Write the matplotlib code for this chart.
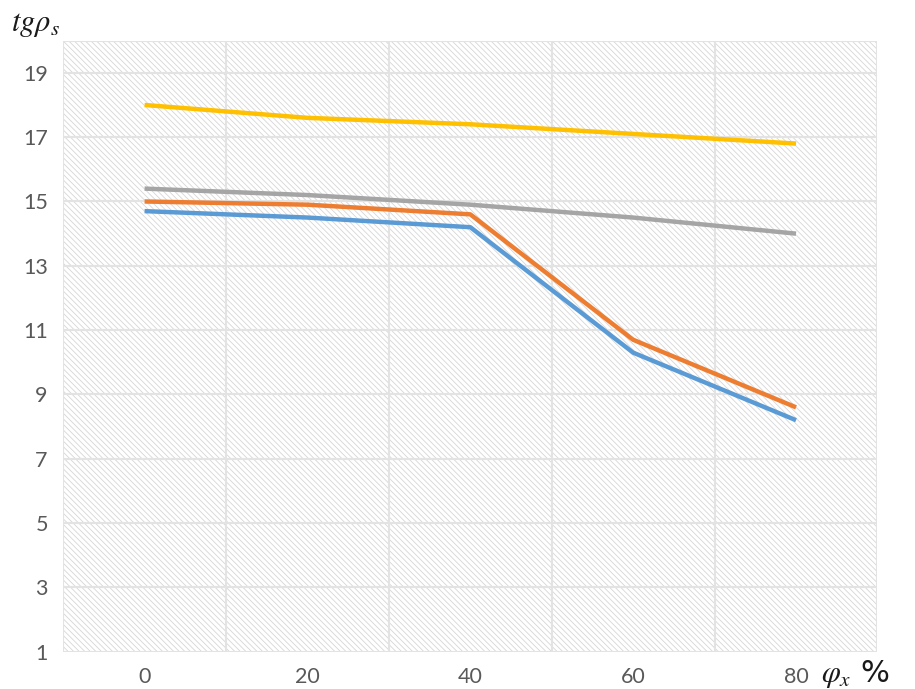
import matplotlib
matplotlib.use("Agg")
import matplotlib.pyplot as plt
from matplotlib.patches import Rectangle

plt.rcParams["mathtext.fontset"] = "stix"
plt.rcParams["hatch.linewidth"] = 0.6

phi_x = [0, 20, 40, 60, 80]
yellow = [18.0, 17.6, 17.4, 17.1, 16.8]
gray = [15.4, 15.2, 14.9, 14.5, 14.0]
orange = [15.0, 14.9, 14.6, 10.7, 8.6]
blue = [14.7, 14.5, 14.2, 10.3, 8.2]

y_ticks = [1, 3, 5, 7, 9, 11, 13, 15, 17, 19]
x_grid = [-10, 10, 30, 50, 70, 90]

fig = plt.figure(figsize=(9.15, 6.89), dpi=100)
ax = fig.add_axes([0.069, 0.054, 0.890, 0.887])

ax.set_xlim(-10, 90)
ax.set_ylim(1, 20)

# hatched background of the plot area
ax.add_patch(Rectangle((-10, 1), 100, 19, facecolor="white", edgecolor="#d6d6d6",
                       linewidth=0, hatch="\\\\\\\\\\\\", zorder=0))

for x in x_grid:
    ax.axvline(x, color="#e3e3e3", lw=1.5, zorder=1)
for y in y_ticks + [20]:
    ax.axhline(y, color="#e3e3e3", lw=1.5, zorder=1)

ax.plot(phi_x, blue, color="#5b9bd5", lw=3.2, zorder=3, solid_capstyle="butt")
ax.plot(phi_x, orange, color="#ed7d31", lw=3.2, zorder=3, solid_capstyle="butt")
ax.plot(phi_x, gray, color="#a5a5a5", lw=3.2, zorder=3, solid_capstyle="butt")
ax.plot(phi_x, yellow, color="#ffc000", lw=3.2, zorder=3, solid_capstyle="butt")

ax.set_xticks(phi_x)
ax.set_yticks(y_ticks)
ax.tick_params(length=0, labelsize=15.5, labelcolor="#595959", pad=11)
for lab in ax.get_xticklabels() + ax.get_yticklabels():
    lab.set_family("Lato")

for s in ax.spines.values():
    s.set_visible(False)

fig.text(0.012, 0.965, r"$tg\rho_s$", fontsize=22, color="#1a1a1a", va="center")
fig.text(0.897, 0.022, r"$\varphi_x$ %", fontsize=22, color="#1a1a1a", va="center")

fig.savefig("out.png", dpi=100)
